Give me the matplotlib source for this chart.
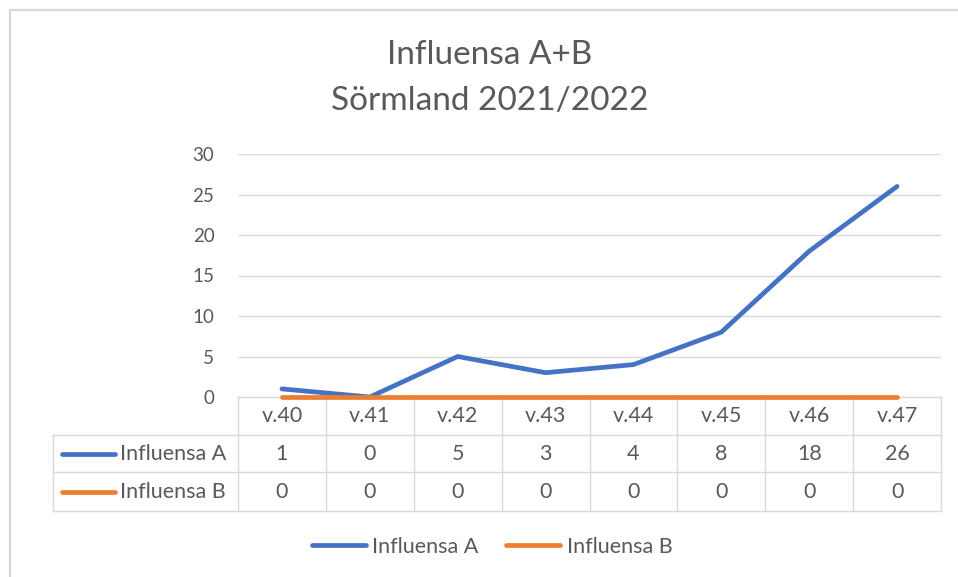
import matplotlib.pyplot as plt
import matplotlib.patches as patches

weeks = ["v.40", "v.41", "v.42", "v.43", "v.44", "v.45", "v.46", "v.47"]
influensa_a = [1, 0, 5, 3, 4, 8, 18, 26]
influensa_b = [0, 0, 0, 0, 0, 0, 0, 0]
series_names = ["Influensa A", "Influensa B"]
title_lines = ["Influensa A+B", "Sörmland 2021/2022"]

BLUE = "#4472C4"
ORANGE = "#ED7D31"
GRID = "#d9d9d9"
TEXT = "#595959"
TFS = 15.5  # table / legend font size

plt.rcParams["font.family"] = ["Lato", "DejaVu Sans"]

W, H = 958, 577
fig = plt.figure(figsize=(W / 100, H / 100), dpi=100)

# outer chart frame
fig.patches.append(patches.Rectangle((10 / W, -0.05), 1.1, (H - 10) / H + 0.05,
                                     transform=fig.transFigure, fill=False,
                                     edgecolor=GRID, linewidth=1.6))

left, right, y0, y30 = 238, 941, 397, 154
ax = fig.add_axes([left / W, (H - y0) / H, (right - left) / W, (y0 - y30) / H])

x = list(range(len(weeks)))
ax.plot(x, influensa_a, color=BLUE, linewidth=3.4, solid_capstyle="round",
        label=series_names[0], clip_on=False, zorder=3)
ax.plot(x, influensa_b, color=ORANGE, linewidth=3.4, solid_capstyle="round",
        label=series_names[1], clip_on=False, zorder=4)

ax.set_xlim(-0.5, len(weeks) - 0.5)
ax.set_ylim(0, 30)
ax.set_yticks(range(0, 31, 5))
ax.set_xticks([])
ax.yaxis.grid(True, color=GRID, linewidth=1)
ax.set_axisbelow(True)
for s in ax.spines.values():
    s.set_visible(False)
ax.tick_params(axis="y", length=0, pad=17, labelsize=13.5, labelcolor=TEXT)

# data table below the plot (in data units)
ppu = (y0 - y30) / 30.0
row_edges = [0, -(435 - y0) / ppu, -(472 - y0) / ppu, -(511 - y0) / ppu]
colw = (right - left) / len(weeks)
label_left = -0.5 - (left - 53) / colw
n = len(weeks)
kw = dict(color=GRID, linewidth=1, clip_on=False, zorder=1)

# horizontal lines
ax.plot([-0.5, n - 0.5], [row_edges[0]] * 2, **kw)
for ry in row_edges[1:]:
    ax.plot([label_left, n - 0.5], [ry, ry], **kw)
# vertical lines
for i in range(n + 1):
    ax.plot([i - 0.5, i - 0.5], [row_edges[0], row_edges[3]], **kw)
ax.plot([label_left, label_left], [row_edges[1], row_edges[3]], **kw)

for i, wk in enumerate(weeks):
    ax.text(i, (row_edges[0] + row_edges[1]) / 2, wk, ha="center", va="center",
            fontsize=TFS, color=TEXT)
for r, (vals, col, name) in enumerate(zip([influensa_a, influensa_b],
                                          [BLUE, ORANGE], series_names)):
    yc = (row_edges[r + 1] + row_edges[r + 2]) / 2
    for i, v in enumerate(vals):
        ax.text(i, yc, str(v), ha="center", va="center", fontsize=TFS, color=TEXT)
    kx = label_left + 9 / colw
    ax.plot([kx, kx + 53 / colw], [yc, yc], color=col, linewidth=3.4,
            solid_capstyle="round", clip_on=False)
    ax.text(kx + 58 / colw, yc, name, ha="left", va="center", fontsize=TFS,
            color=TEXT)

# title
fig.text(490 / W, 1 - 55 / H, title_lines[0], ha="center", va="center",
         fontsize=24, color=TEXT)
fig.text(490 / W, 1 - 101 / H, title_lines[1], ha="center", va="center",
         fontsize=24, color=TEXT)

fig.legend(loc="center", bbox_to_anchor=(492 / W, 1 - 547 / H), ncol=2,
           frameon=False, fontsize=TFS, labelcolor=TEXT, handlelength=2.5,
           handletextpad=0.3, columnspacing=1.3)

fig.savefig("out.png", dpi=100)
